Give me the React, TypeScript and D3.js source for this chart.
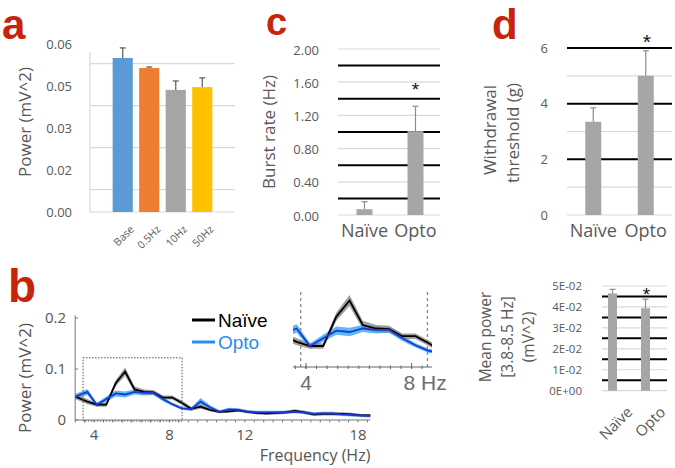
import React from "react";
import * as d3 from "d3";

const RED = "#c8240c";
const TXT = "#595959";
const FONT = "'Open Sans', 'Noto Sans', sans-serif";
const HELV = "'Liberation Sans', Arial, sans-serif";
const GRID = "#d9d9d9";

// ---------- panel a ----------
const aCategories = ["Base", "0.5Hz", "10Hz", "50Hz"];
const aValues = [0.055, 0.0514, 0.0436, 0.0446];
const aErrors = [0.0036, 0.0004, 0.0032, 0.0033];
const aColors = ["#5b9bd5", "#ed7d31", "#a5a5a5", "#ffc000"];
const aTickValues = [0, 0.015, 0.03, 0.045, 0.06];
const aTickLabels = ["0.00", "0.02", "0.03", "0.05", "0.06"];
const aGridValues = [0.008, 0.023, 0.038, 0.053];

// ---------- panel c ----------
const cCategories = ["Naïve", "Opto"];
const cValues = [0.07, 1.01];
const cErrors = [0.09, 0.3];
const cTickValues = [0, 0.4, 0.8, 1.2, 1.6, 2.0];
const cBlackLines = [0.2, 0.6, 1.0, 1.4, 1.8];

// ---------- panel d ----------
const dCategories = ["Naïve", "Opto"];
const dValues = [3.35, 5.0];
const dErrors = [0.5, 0.9];
const dTickValues = [0, 2, 4, 6];
const dLightLines = [0, 1, 3, 5];
const dBlackLines = [2, 4, 6];

// ---------- panel d (bottom, mean power) ----------
const eCategories = ["Naïve", "Opto"];
const eValues = [0.0465, 0.0394];
const eErrors = [0.0019, 0.0043];
const eTickValues = [0, 0.01, 0.02, 0.03, 0.04, 0.05];
const eTickLabels = ["0E+00", "1E-02", "2E-02", "3E-02", "4E-02", "5E-02"];
const eBlackLines = [0.005, 0.015, 0.025, 0.035, 0.045];

// ---------- panel b ----------
const bFreq = [3.0, 3.65, 4.15, 4.65, 5.15, 5.65, 6.15, 6.65, 7.15, 7.65, 8.15, 8.65, 9.15, 9.65, 10.15, 10.65, 11.15, 11.65, 12.15, 12.65, 13.15, 13.65, 14.15, 14.65, 15.15, 15.65, 16.15, 16.65, 17.15, 17.65, 18.15, 18.65];
const bNaive = [0.046, 0.036, 0.030, 0.030, 0.072, 0.095, 0.060, 0.055, 0.054, 0.044, 0.044, 0.034, 0.022, 0.026, 0.020, 0.016, 0.017, 0.019, 0.016, 0.014, 0.013, 0.014, 0.015, 0.018, 0.015, 0.011, 0.012, 0.012, 0.012, 0.011, 0.009, 0.009];
const bNaiveSem = [0.005, 0.005, 0.004, 0.004, 0.006, 0.008, 0.006, 0.005, 0.005, 0.004, 0.004, 0.004, 0.004, 0.004, 0.003, 0.003, 0.003, 0.003, 0.003, 0.003, 0.003, 0.003, 0.003, 0.003, 0.003, 0.003, 0.003, 0.003, 0.003, 0.003, 0.003, 0.003];
const bOpto = [0.046, 0.055, 0.030, 0.041, 0.052, 0.050, 0.055, 0.053, 0.053, 0.041, 0.031, 0.023, 0.021, 0.036, 0.025, 0.016, 0.021, 0.020, 0.016, 0.015, 0.015, 0.015, 0.015, 0.016, 0.015, 0.012, 0.013, 0.013, 0.011, 0.010, 0.009, 0.008];
const bOptoSem = [0.005, 0.006, 0.004, 0.005, 0.006, 0.006, 0.005, 0.005, 0.004, 0.004, 0.003, 0.003, 0.003, 0.007, 0.004, 0.003, 0.003, 0.003, 0.003, 0.003, 0.003, 0.003, 0.003, 0.003, 0.003, 0.003, 0.003, 0.003, 0.003, 0.003, 0.003, 0.003];
const bXTicks = [4, 8, 12, 18];
const bYTicks = [0, 0.1, 0.2];
const bYTickLabels = ["0", "0.1", "0.2"];
const bBox = [3.42, 8.67, 0.122];
const bInsetDomain = [3.51, 8.77];
const bInsetDashes = [3.8, 8.6];
const legendItems = ["Naïve", "Opto"];

const NAIVE_LINE = "#000000";
const NAIVE_BAND = "#7f7f7f";
const OPTO_LINE = "#1f35dc";
const OPTO_BAND = "#3cb2f0";
const OPTO_LEGEND = "#2b8cee";

function Star({ x, y, size }: { x: number; y: number; size: number }) {
  return (
    <text x={x} y={y + size * 0.58} fontSize={size} fontFamily={HELV} textAnchor="middle" fill="#111">
      *
    </text>
  );
}

function ErrBar({ x, y0, y1, color }: { x: number; y0: number; y1: number; color: string }) {
  return (
    <g stroke={color} strokeWidth={1.2}>
      <line x1={x} x2={x} y1={y0} y2={y1} />
      <line x1={x - 3} x2={x + 3} y1={y1} y2={y1} />
    </g>
  );
}

export default function App() {
  // panel a scales
  const xA = d3.scaleBand<string>().domain(aCategories).range([110, 215]).paddingInner(0.24).paddingOuter(0.1);
  const yA = d3.scaleLinear().domain([0, 0.06]).range([212, 44]);

  // panel c
  const xC = d3.scalePoint<string>().domain(cCategories).range([339, 441]).padding(0.5);
  const yC = d3.scaleLinear().domain([0, 2]).range([215, 49]);

  // panel d
  const xD = d3.scalePoint<string>().domain(dCategories).range([567, 672]).padding(0.5);
  const yD = d3.scaleLinear().domain([0, 6]).range([215, 48]);

  // panel e
  const xE = d3.scalePoint<string>().domain(eCategories).range([596, 662]).padding(0.5);
  const yE = d3.scaleLinear().domain([0, 0.05]).range([390.7, 286]);

  // panel b
  const xB = d3.scaleLinear().domain([4, 18]).range([94, 358]);
  const yB = d3.scaleLinear().domain([0, 0.2]).range([420, 318]);
  const xI = d3.scaleLinear().domain([4, 8]).range([306, 411.6]);
  const yI = d3.scaleLinear().domain([0, 0.1]).range([367, 297]);

  const idx = bFreq.map((_, i) => i);
  const mkArea = (xs: any, ys: any, v: number[], s: number[]) =>
    d3.area<number>().x((i) => xs(bFreq[i])).y0((i) => ys(v[i] - s[i])).y1((i) => ys(v[i] + s[i]))(idx) || "";
  const mkLine = (xs: any, ys: any, v: number[]) =>
    d3.line<number>().x((i) => xs(bFreq[i])).y((i) => ys(v[i]))(idx) || "";

  const minorTicks = d3.range(3, 18.75, 0.5);
  const insetTicks = d3.range(3.6, 8.75, 0.4);

  return (
    <svg width={675} height={468} style={{ position: "absolute", left: 0, top: 0, background: "#fff" }}>
      <rect width={675} height={468} fill="#fff" />
      {/* panel letters */}
      <text x={2} y={39} fontSize={42} fontWeight="bold" fontFamily={HELV} fill={RED}>a</text>
      <text x={8} y={302} fontSize={46} fontWeight="bold" fontFamily={HELV} fill={RED}>b</text>
      <text x={266} y={35} fontSize={38} fontWeight="bold" fontFamily={HELV} fill={RED}>c</text>
      <text x={492} y={39} fontSize={42} fontWeight="bold" fontFamily={HELV} fill={RED}>d</text>

      {/* ===== panel a ===== */}
      <g>
        {aGridValues.map((v) => (
          <line key={v} x1={90} x2={235} y1={yA(v)} y2={yA(v)} stroke={GRID} strokeWidth={1.2} />
        ))}
        <line x1={90} x2={235} y1={yA(0)} y2={yA(0)} stroke={GRID} strokeWidth={1.2} />
        <line x1={90} x2={90} y1={52} y2={yA(0)} stroke={GRID} strokeWidth={1.2} />
        {aTickValues.map((v, i) => (
          <text key={v} x={72} y={yA(v)} dy="0.35em" textAnchor="end" fontSize={13} fontFamily={FONT} fill={TXT}>
            {aTickLabels[i]}
          </text>
        ))}
        {aCategories.map((c, i) => (
          <g key={c}>
            <rect x={xA(c)} y={yA(aValues[i])} width={xA.bandwidth()} height={yA(0) - yA(aValues[i])} fill={aColors[i]} />
            <ErrBar x={(xA(c) as number) + xA.bandwidth() / 2} y0={yA(aValues[i])} y1={yA(aValues[i] + aErrors[i])} color="#595959" />
            <text
              transform={`translate(${(xA(c) as number) + xA.bandwidth() / 2 + 12},230) rotate(-45)`}
              textAnchor="end"
              fontSize={10.5}
              fontFamily={FONT}
              fill={TXT}
            >
              {c}
            </text>
          </g>
        ))}
        <text transform="translate(31,122) rotate(-90)" textAnchor="middle" fontSize={17} fontFamily={FONT} fill={TXT}>
          Power (mV^2)
        </text>
      </g>

      {/* ===== panel c ===== */}
      <g>
        {cTickValues.map((v) => (
          <line key={v} x1={338} x2={440} y1={yC(v)} y2={yC(v)} stroke={GRID} strokeWidth={1.2} />
        ))}
        {cBlackLines.map((v) => (
          <line key={v} x1={338} x2={440} y1={yC(v)} y2={yC(v)} stroke="#000" strokeWidth={2} />
        ))}
        {cTickValues.map((v) => (
          <text key={v} x={319} y={yC(v) + 1} dy="0.35em" textAnchor="end" fontSize={13} fontFamily={FONT} fill={TXT}>
            {v.toFixed(2)}
          </text>
        ))}
        {cCategories.map((c, i) => (
          <g key={c}>
            <rect x={(xC(c) as number) - 8} y={yC(cValues[i])} width={16} height={yC(0) - yC(cValues[i])} fill="#a6a6a6" />
            <ErrBar x={xC(c) as number} y0={yC(cValues[i])} y1={yC(cValues[i] + cErrors[i])} color="#8c8c8c" />
            <text x={xC(c)} y={237} textAnchor="middle" fontSize={18} fontFamily={FONT} fill={TXT}>
              {c}
            </text>
          </g>
        ))}
        <Star x={xC("Opto") as number} y={85} size={19} />
        <text transform="translate(275,132) rotate(-90)" textAnchor="middle" fontSize={17} fontFamily={FONT} fill={TXT}>
          Burst rate (Hz)
        </text>
      </g>

      {/* ===== panel d ===== */}
      <g>
        {dLightLines.map((v) => (
          <line key={v} x1={567} x2={672} y1={yD(v)} y2={yD(v)} stroke={GRID} strokeWidth={1.2} />
        ))}
        {dBlackLines.map((v) => (
          <line key={v} x1={567} x2={672} y1={yD(v)} y2={yD(v)} stroke="#000" strokeWidth={2} />
        ))}
        {dTickValues.map((v) => (
          <text key={v} x={548} y={yD(v)} dy="0.35em" textAnchor="end" fontSize={13} fontFamily={FONT} fill={TXT}>
            {v}
          </text>
        ))}
        {dCategories.map((c, i) => (
          <g key={c}>
            <rect x={(xD(c) as number) - 8} y={yD(dValues[i])} width={16} height={yD(0) - yD(dValues[i])} fill="#a6a6a6" />
            <ErrBar x={xD(c) as number} y0={yD(dValues[i])} y1={yD(dValues[i] + dErrors[i])} color="#8c8c8c" />
            <text x={xD(c)} y={237} textAnchor="middle" fontSize={18} fontFamily={FONT} fill={TXT}>
              {c}
            </text>
          </g>
        ))}
        <Star x={(xD("Opto") as number) + 1} y={37} size={21} />
        <text transform="translate(496,130) rotate(-90)" textAnchor="middle" fontSize={17} fontFamily={FONT} fill={TXT}>
          Withdrawal
        </text>
        <text transform="translate(519,133) rotate(-90)" textAnchor="middle" fontSize={17} fontFamily={FONT} fill={TXT}>
          threshold (g)
        </text>
      </g>

      {/* ===== panel d bottom ===== */}
      <g>
        {eTickValues.map((v) => (
          <line key={v} x1={602} x2={667} y1={yE(v)} y2={yE(v)} stroke={GRID} strokeWidth={1.2} />
        ))}
        {eBlackLines.map((v) => (
          <line key={v} x1={602} x2={667} y1={yE(v)} y2={yE(v)} stroke="#000" strokeWidth={2} />
        ))}
        {eTickValues.map((v, i) => (
          <text key={v} x={582} y={yE(v)} dy="0.35em" textAnchor="end" fontSize={11.5} fontFamily={FONT} fill={TXT}>
            {eTickLabels[i]}
          </text>
        ))}
        {eCategories.map((c, i) => (
          <g key={c}>
            <rect x={(xE(c) as number) - 4.5} y={yE(eValues[i])} width={9} height={yE(0) - yE(eValues[i])} fill="#a6a6a6" />
            <ErrBar x={xE(c) as number} y0={yE(eValues[i])} y1={yE(eValues[i] + eErrors[i])} color="#8c8c8c" />
            <text
              transform={`translate(${(xE(c) as number) + 21},413) rotate(-45)`}
              textAnchor="end"
              fontSize={15}
              fontFamily={FONT}
              fill={TXT}
            >
              {c}
            </text>
          </g>
        ))}
        <Star x={(xE("Opto") as number) + 1} y={290} size={19} />
        {["Mean power", "[3.8-8.5 Hz]", "(mV^2)"].map((t, i) => (
          <text key={t} transform={`translate(${491 + i * 21.5},337) rotate(-90)`} textAnchor="middle" fontSize={15.5} fontFamily={FONT} fill={TXT}>
            {t}
          </text>
        ))}
      </g>

      {/* ===== panel b main ===== */}
      <g>
        <path d={mkArea(xB, yB, bOpto, bOptoSem)} fill={OPTO_BAND} opacity={0.85} />
        <path d={mkArea(xB, yB, bNaive, bNaiveSem)} fill={NAIVE_BAND} opacity={0.75} />
        <path d={mkLine(xB, yB, bNaive)} fill="none" stroke={NAIVE_LINE} strokeWidth={1.8} />
        <path d={mkLine(xB, yB, bOpto)} fill="none" stroke={OPTO_LINE} strokeWidth={1.8} />
        {/* axes */}
        <line x1={xB(3)} x2={xB(3)} y1={yB(0.205)} y2={yB(0)} stroke="#777" strokeWidth={1} />
        <line x1={xB(3)} x2={xB(18.65)} y1={yB(0)} y2={yB(0)} stroke="#777" strokeWidth={1} />
        {bYTicks.map((v) => (
          <line key={v} x1={xB(3)} x2={xB(3) + 3} y1={yB(v)} y2={yB(v)} stroke="#777" />
        ))}
        {minorTicks.map((f) => (
          <line key={f} x1={xB(f)} x2={xB(f)} y1={yB(0)} y2={yB(0) + 2.5} stroke="#777" />
        ))}
        {bYTicks.map((v, i) => (
          <text key={v} x={66} y={yB(v)} dy="0.35em" textAnchor="end" fontSize={15} fontFamily={FONT} fill="#555">
            {bYTickLabels[i]}
          </text>
        ))}
        {bXTicks.map((f) => (
          <text key={f} x={xB(f)} y={440} textAnchor="middle" fontSize={15} fontFamily={FONT} fill="#555">
            {f}
          </text>
        ))}
        <text x={315} y={461} textAnchor="middle" fontSize={16} fontFamily={FONT} fill="#555">
          Frequency (Hz)
        </text>
        <text transform="translate(31,378) rotate(-90)" textAnchor="middle" fontSize={17} fontFamily={FONT} fill="#555">
          Power (mV^2)
        </text>
        {/* dotted box */}
        <rect
          x={xB(bBox[0])}
          y={yB(bBox[2])}
          width={xB(bBox[1]) - xB(bBox[0])}
          height={yB(0) + 1 - yB(bBox[2])}
          fill="none"
          stroke="#555"
          strokeWidth={1}
          strokeDasharray="1.5,1.5"
        />
        {/* legend */}
        {legendItems.map((t, i) => (
          <g key={t}>
            <line x1={192} x2={215} y1={320 + i * 22} y2={320 + i * 22} stroke={i === 0 ? "#000" : OPTO_LEGEND} strokeWidth={3} />
            <text x={218} y={327 + i * 22} fontSize={19} fontFamily={HELV} fill={i === 0 ? "#000" : OPTO_LEGEND}>
              {t}
            </text>
          </g>
        ))}
      </g>

      {/* ===== panel b inset ===== */}
      <defs>
        <clipPath id="insetClip">
          <rect x={xI(bInsetDomain[0])} y={280} width={xI(bInsetDomain[1]) - xI(bInsetDomain[0])} height={90} />
        </clipPath>
      </defs>
      <g>
        {bInsetDashes.map((f) => (
          <line key={f} x1={xI(f)} x2={xI(f)} y1={292} y2={yI(0)} stroke="#888" strokeWidth={1.3} strokeDasharray="3,3" />
        ))}
        <g clipPath="url(#insetClip)">
          <path d={mkArea(xI, yI, bOpto, bOptoSem)} fill={OPTO_BAND} opacity={0.85} />
          <path d={mkArea(xI, yI, bNaive, bNaiveSem)} fill={NAIVE_BAND} opacity={0.75} />
          <path d={mkLine(xI, yI, bNaive)} fill="none" stroke={NAIVE_LINE} strokeWidth={1.8} />
          <path d={mkLine(xI, yI, bOpto)} fill="none" stroke={OPTO_LINE} strokeWidth={1.8} />
        </g>
        <line x1={xI(bInsetDomain[0])} x2={xI(bInsetDomain[1])} y1={yI(0)} y2={yI(0)} stroke="#666" strokeWidth={1} />
        {insetTicks.map((f) => (
          <line key={f} x1={xI(f)} x2={xI(f)} y1={yI(0) - 1.5} y2={yI(0) + 2} stroke="#666" strokeWidth={1} />
        ))}
        {[4, 8].map((f) => (
          <line key={f} x1={xI(f)} x2={xI(f)} y1={yI(0) - 4} y2={yI(0) + 2} stroke="#666" strokeWidth={1} />
        ))}
        <text x={xI(4)} y={390} textAnchor="middle" fontSize={21} fontFamily={HELV} fill="#6d6d6d">4</text>
        <text x={xI(8) - 8} y={390} textAnchor="start" fontSize={21} fontFamily={HELV} fill="#6d6d6d">8 Hz</text>
      </g>
    </svg>
  );
}
